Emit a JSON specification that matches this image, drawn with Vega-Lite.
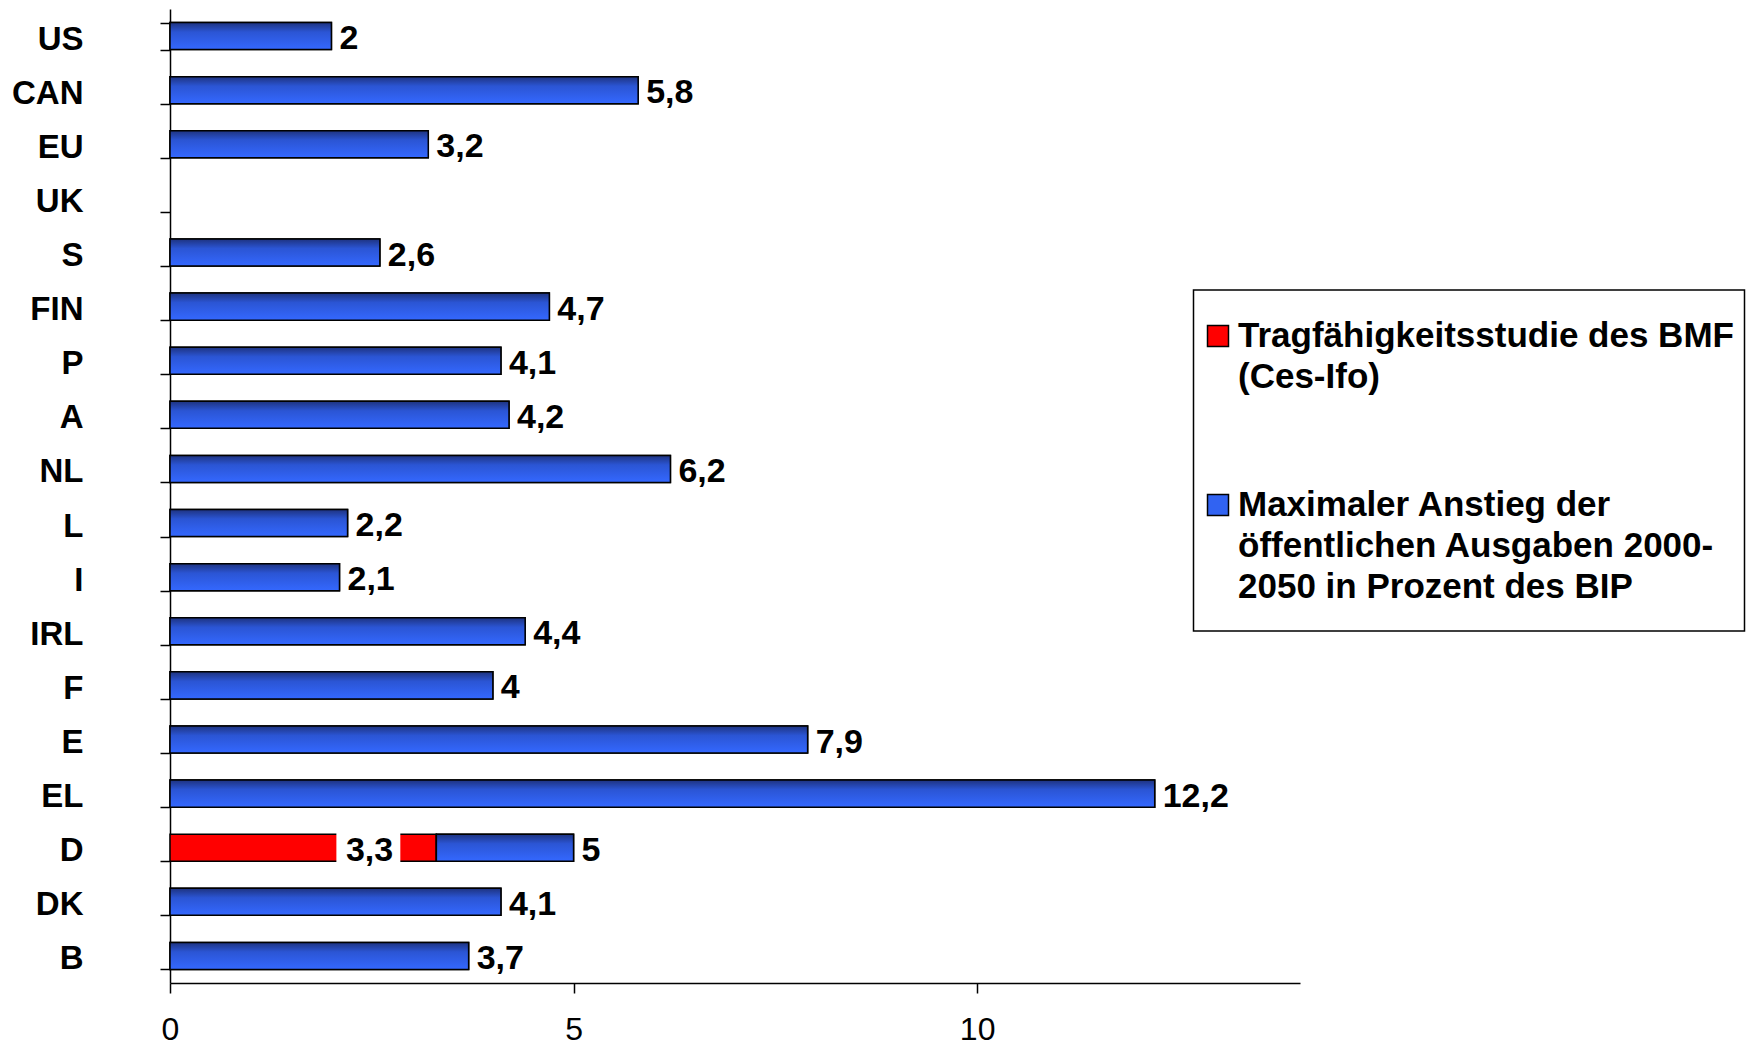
{
  "$schema": "https://vega.github.io/schema/vega-lite/v6.json",
  "autosize": {"type": "none"},
  "padding": {"left": 170, "top": 9, "right": 460, "bottom": 67},
  "width": 1130,
  "height": 974,
  "background": "white",
  "config": {
    "view": {"stroke": null},
    "font": "Liberation Sans",
    "locale": {"number": {"decimal": ",", "thousands": ".", "grouping": [3], "currency": ["", " €"]}},
    "axis": {"grid": false, "domainColor": "#000", "domainWidth": 1.5, "tickColor": "#000", "tickWidth": 1.5, "labelColor": "#000", "title": null, "labelFont": "Liberation Sans"}
  },
  "datasets": {
    "bars": [
      {"country": "US", "series": "MAX", "start": 0, "end": 2},
      {"country": "CAN", "series": "MAX", "start": 0, "end": 5.8},
      {"country": "EU", "series": "MAX", "start": 0, "end": 3.2},
      {"country": "S", "series": "MAX", "start": 0, "end": 2.6},
      {"country": "FIN", "series": "MAX", "start": 0, "end": 4.7},
      {"country": "P", "series": "MAX", "start": 0, "end": 4.1},
      {"country": "A", "series": "MAX", "start": 0, "end": 4.2},
      {"country": "NL", "series": "MAX", "start": 0, "end": 6.2},
      {"country": "L", "series": "MAX", "start": 0, "end": 2.2},
      {"country": "I", "series": "MAX", "start": 0, "end": 2.1},
      {"country": "IRL", "series": "MAX", "start": 0, "end": 4.4},
      {"country": "F", "series": "MAX", "start": 0, "end": 4},
      {"country": "E", "series": "MAX", "start": 0, "end": 7.9},
      {"country": "EL", "series": "MAX", "start": 0, "end": 12.2},
      {"country": "D", "series": "BMF", "start": 0, "end": 3.3},
      {"country": "D", "series": "MAX", "start": 3.3, "end": 5},
      {"country": "DK", "series": "MAX", "start": 0, "end": 4.1},
      {"country": "B", "series": "MAX", "start": 0, "end": 3.7}
    ],
    "labels": [
      {"country": "US", "value": 2, "at": 2},
      {"country": "CAN", "value": 5.8, "at": 5.8},
      {"country": "EU", "value": 3.2, "at": 3.2},
      {"country": "S", "value": 2.6, "at": 2.6},
      {"country": "FIN", "value": 4.7, "at": 4.7},
      {"country": "P", "value": 4.1, "at": 4.1},
      {"country": "A", "value": 4.2, "at": 4.2},
      {"country": "NL", "value": 6.2, "at": 6.2},
      {"country": "L", "value": 2.2, "at": 2.2},
      {"country": "I", "value": 2.1, "at": 2.1},
      {"country": "IRL", "value": 4.4, "at": 4.4},
      {"country": "F", "value": 4, "at": 4},
      {"country": "E", "value": 7.9, "at": 7.9},
      {"country": "EL", "value": 12.2, "at": 12.2},
      {"country": "D", "value": 3.3, "at": 2.08},
      {"country": "D", "value": 5, "at": 5},
      {"country": "DK", "value": 4.1, "at": 4.1},
      {"country": "B", "value": 3.7, "at": 3.7}
    ],
    "gaps": [
      {"country": "D", "from": 2.08, "to": 2.835}
    ]
  },
  "encoding": {
    "y": {
      "field": "country",
      "type": "nominal",
      "scale": {
        "domain": ["US", "CAN", "EU", "UK", "S", "FIN", "P", "A", "NL", "L", "I", "IRL", "F", "E", "EL", "D", "DK", "B"],
        "paddingInner": 0.5,
        "paddingOuter": 0.25
      },
      "axis": {
        "title": null,
        "tickBand": "extent",
        "tickSize": 10,
        "labelPadding": 77,
        "labelFontSize": 33,
        "labelFontWeight": "bold",
        "labelOffset": 3
      }
    }
  },
  "layer": [
    {
      "data": {"name": "bars"},
      "mark": {"type": "bar", "stroke": "#000", "strokeWidth": 1.5},
      "encoding": {
        "x": {
          "field": "start",
          "type": "quantitative",
          "scale": {"domain": [0, 14], "nice": false},
          "axis": {
            "values": [0, 5, 10],
            "title": null,
            "tickSize": 10,
            "labelPadding": 21,
            "labelFontSize": 32,
            "labelFontWeight": "normal",
            "labelFlush": false,
            "format": "d"
          }
        },
        "x2": {"field": "end"},
        "color": {
          "field": "series",
          "type": "nominal",
          "scale": {"domain": ["BMF", "MAX"], "range": ["#ff0000", "#3163f2"]},
          "legend": {
            "orient": "none",
            "legendX": 1023.5,
            "legendY": 281,
            "title": null,
            "strokeColor": "#000",
            "fillColor": "#fff",
            "padding": 10,
            "symbolType": "square",
            "symbolSize": 441,
            "symbolStrokeColor": "#000",
            "symbolStrokeWidth": 1.5,
            "symbolOffset": -3,
            "labelFont": "Liberation Sans",
            "labelFontSize": 35,
            "labelFontWeight": "bold",
            "labelColor": "#000",
            "labelOffset": 2.5,
            "labelLimit": 800,
            "clipHeight": 152,
            "rowPadding": 17,
            "labelBaseline": "alphabetic",
            "labelExpr": "datum.label == 'BMF' ? ['Tragfähigkeitsstudie des BMF', '(Ces-Ifo)'] : ['Maximaler Anstieg der', 'öffentlichen Ausgaben 2000-', '2050 in Prozent des BIP']",
            "encode": {
              "legend": {"update": {"strokeWidth": {"value": 1.5}}},
              "symbols": {"update": {"y": {"value": 36}}},
              "labels": {"update": {"y": {"value": 36}, "lineHeight": {"value": 41}, "dy": {"value": 11}}}
            }
          }
        }
      }
    },
    {
      "data": {"name": "bars"},
      "transform": [{"filter": "datum.series == 'MAX'"}],
      "mark": {
        "type": "bar",
        "stroke": "#000",
        "strokeWidth": 1.5,
        "fill": {
          "gradient": "linear",
          "x1": 0, "y1": 0, "x2": 0, "y2": 1,
          "stops": [
            {"offset": 0, "color": "#1e3380"},
            {"offset": 0.35, "color": "#2b55d4"},
            {"offset": 1, "color": "#3468ff"}
          ]
        }
      },
      "encoding": {
        "x": {"field": "start", "type": "quantitative"},
        "x2": {"field": "end"}
      }
    },
    {
      "data": {"name": "gaps"},
      "mark": {"type": "bar", "fill": "#fff", "stroke": "#fff", "strokeWidth": 3},
      "encoding": {
        "x": {"field": "from", "type": "quantitative"},
        "x2": {"field": "to"}
      }
    },
    {
      "data": {"name": "labels"},
      "mark": {"type": "text", "align": "left", "baseline": "middle", "dx": 8, "dy": 3, "fontSize": 34, "fontWeight": "bold", "color": "#000", "font": "Liberation Sans"},
      "encoding": {
        "x": {"field": "at", "type": "quantitative"},
        "text": {"field": "value", "type": "quantitative", "format": ".1~f"}
      }
    }
  ]
}
